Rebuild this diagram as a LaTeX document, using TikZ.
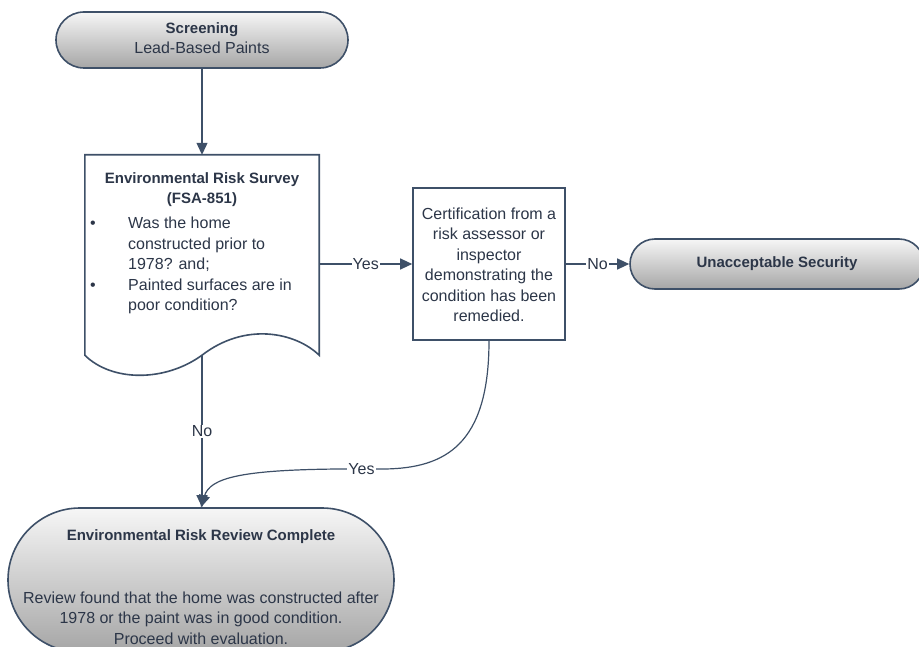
\documentclass[tikz,border=0pt]{standalone}
\usepackage{fontspec}
\setmainfont{Liberation Sans}
\usetikzlibrary{arrows.meta,calc}
\definecolor{edge}{RGB}{62,80,104}
\definecolor{ink}{RGB}{44,54,72}
\definecolor{shadetop}{RGB}{246,246,246}
\definecolor{shadebot}{RGB}{166,166,166}
\newcommand{\regfont}{\fontsize{16}{20.5}\selectfont}
\newcommand{\headfont}{\fontsize{15}{20.5}\selectfont\bfseries}
\begin{document}
\begin{tikzpicture}[x=1pt,y=-1pt,
  every node/.style={text=ink, font=\regfont, inner sep=0pt},
  term/.style={draw=edge, line width=1.6pt, top color=shadetop, bottom color=shadebot,
    rounded corners=#1},
  procbox/.style={draw=edge, line width=1.6pt, fill=white},
  conn/.style={draw=edge, line width=1.2pt, -{Triangle[length=12pt,width=11pt]}},
  lbl/.style={fill=white, inner sep=1pt}
]
\useasboundingbox (0,0) rectangle (919,647);

% start terminator
\node[term=28pt, minimum width=292pt, minimum height=56pt] (screen) at (202,40) {};
\node[align=center] (screentxt) at (202,38) {{\headfont Screening}\\[-1pt]Lead-Based Paints};

% survey document shape
\node[minimum width=234pt, minimum height=200pt] (survey) at (202,255) {};
\draw[procbox, line join=miter]
  (survey.south west) -- (survey.north west) -- (survey.north east) -- (survey.south east)
  .. controls (295,332) and (245,322) .. (survey.south)
  .. controls (165,382) and (112,382) .. (survey.south west) -- cycle;
\node[align=center, anchor=north] (surveytitle) at (202,172)
  {{\headfont Environmental Risk Survey}\\{\headfont (FSA-851)}};
\node[anchor=north west] (surveylist) at (90,214)
  {\begin{tabular}{@{}p{38pt}@{}l@{}}
   \textbullet & Was the home\\
   & constructed prior to\\
   & 1978? and;\\
   \textbullet & Painted surfaces are in\\
   & poor condition?
   \end{tabular}};

% certification process box
\node[procbox, minimum width=152pt, minimum height=152pt] (cert) at (489,264) {};
\node[align=center] (certtxt) at (489,265)
  {Certification from a\\risk assessor or\\inspector\\demonstrating the\\condition has been\\remedied.};

% rejection terminator
\node[term=25pt, minimum width=294pt, minimum height=50pt] (unacc) at (777,264)
  {\headfont Unacceptable Security};

% completion terminator
\node[term=72pt, minimum width=386pt, minimum height=144pt] (review) at (201,580) {};
\node (reviewtitle) at (201,537) {\headfont Environmental Risk Review Complete};
\node[align=center] (reviewtxt) at (201,618)
  {Review found that the home was constructed after\\1978 or the paint was in good condition.\\Proceed with evaluation.};

% connectors
\draw[conn] (screen.south) -- (survey.north);
\draw[conn] (survey.east |- cert.west) -- node[lbl] (yes1) {Yes} (cert.west);
\draw[conn] (cert.east) -- node[lbl] (no1) {No} (unacc.west);
\draw[conn] (survey.south) -- node[lbl] (no2) {No} (survey.south |- review.north);
\draw[conn] (cert.south) .. controls (489,445) and (445,468) .. (385,469)
  -- node[lbl] (yes2) {Yes} (338,469)
  .. controls (240,470) and (210,478) .. (review.north);
\end{tikzpicture}
\end{document}
